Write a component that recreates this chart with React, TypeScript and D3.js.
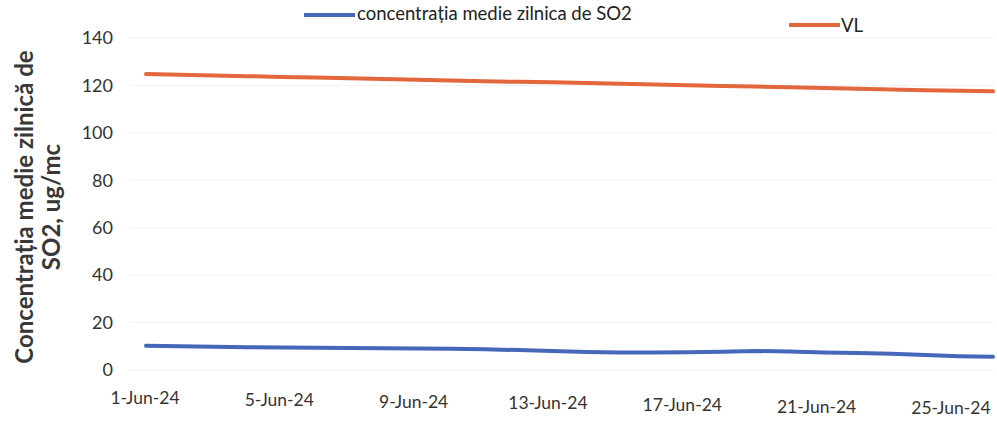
import React from "react";
import * as d3 from "d3";

const days: string[] = Array.from({ length: 26 }, (_, i) => `${i + 1}-Jun-24`);
const so2: number[] = [10.2, 10.0, 9.8, 9.6, 9.5, 9.4, 9.3, 9.2, 9.1, 9.0, 8.7, 8.4, 8.0, 7.6, 7.4, 7.4, 7.5, 7.7, 8.0, 7.8, 7.4, 7.2, 6.9, 6.3, 5.8, 5.6];
const vl: number[] = [124.8, 124.5, 124.2, 123.9, 123.6, 123.3, 123.0, 122.7, 122.4, 122.1, 121.8, 121.5, 121.3, 121.0, 120.7, 120.4, 120.1, 119.8, 119.5, 119.2, 118.9, 118.6, 118.3, 118.0, 117.8, 117.5];
const yTicks: number[] = [0, 20, 40, 60, 80, 100, 120, 140];
const seriesNames: string[] = ["concentrația medie zilnica de SO2", "VL"];

const W = 997, H = 426;
const BLUE = "#4668b8";
const ORANGE = "#e2673d";
const FONT = "Lato, 'Open Sans', sans-serif";

export default function App() {
  const x = d3.scalePoint<string>().domain(days).range([146, 993]);
  const y = d3.scaleLinear().domain([0, 140]).range([370, 38]);
  const line = d3.line<number>().x((_, i) => x(days[i]) as number).y((d) => y(d));
  const labelDays = days.filter((_, i) => i % 4 === 0);

  return (
    <svg width={W} height={H} style={{ position: "absolute", left: 0, top: 0, background: "#fff" }}>
      {yTicks.map((t) => (
        <g key={t}>
          <line x1={130} x2={995} y1={y(t)} y2={y(t)} stroke="#f3f3f3" strokeWidth={1} />
          <text x={113} y={y(t)} dy="0.35em" textAnchor="end" fontFamily={FONT} fontSize={18} fill="#333">{t}</text>
        </g>
      ))}
      {labelDays.map((d, i) => (
        <text key={d} x={(x(d) as number) - 1 - i * 1.2} y={398 + i * 1.7} dy="0.35em" textAnchor="middle" fontFamily={FONT} fontSize={17.5} fill="#333">{d}</text>
      ))}
      <text transform="translate(33,207) rotate(-90)" textAnchor="middle" fontFamily={FONT} fontSize={24} fontWeight="bold" fill="#383838">
        <tspan x={0} dy="0">Concentrația medie zilnică de</tspan>
        <tspan x={0} dy="27">SO2, ug/mc</tspan>
      </text>
      <path d={line(vl) || ""} fill="none" stroke={ORANGE} strokeWidth={4} strokeLinecap="round" />
      <path d={line(so2) || ""} fill="none" stroke={BLUE} strokeWidth={4} strokeLinecap="round" />
      <line x1={304} x2={355} y1={15} y2={15} stroke={BLUE} strokeWidth={4} />
      <text x={357} y={14} dy="0.35em" fontFamily={FONT} fontSize={18.5} fill="#222">{seriesNames[0]}</text>
      <line x1={789} x2={840} y1={25} y2={25} stroke={ORANGE} strokeWidth={4} />
      <text x={841} y={26} dy="0.35em" fontFamily={FONT} fontSize={18.5} fill="#222">{seriesNames[1]}</text>
    </svg>
  );
}
